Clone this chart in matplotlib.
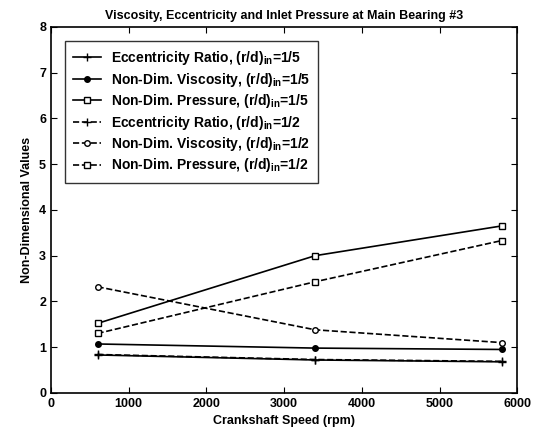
import matplotlib
matplotlib.use("Agg")
import matplotlib.pyplot as plt

plt.rcParams['font.family'] = ['Liberation Sans', 'DejaVu Sans']
plt.rcParams['font.weight'] = 'bold'
plt.rcParams['mathtext.fontset'] = 'custom'
plt.rcParams['mathtext.rm'] = 'Liberation Sans:bold'
plt.rcParams['mathtext.default'] = 'rm'

speed = [600, 3400, 5800]
ecc_5 = [0.83, 0.72, 0.68]
visc_5 = [1.07, 0.98, 0.95]
pres_5 = [1.52, 3.00, 3.65]
ecc_2 = [0.84, 0.73, 0.69]
visc_2 = [2.32, 1.38, 1.10]
pres_2 = [1.30, 2.43, 3.33]

fig = plt.figure(figsize=(5.36, 4.41), dpi=100)
ax = fig.add_axes([0.095, 0.109, 0.87, 0.83])

ms = 4
ax.plot(speed, ecc_5, 'k-', marker='+', ms=6, lw=1.2, label=r'Eccentricity Ratio, (r/d)$_{in}$=1/5')
ax.plot(speed, visc_5, 'k-', marker='o', ms=ms, lw=1.2, label=r'Non-Dim. Viscosity, (r/d)$_{in}$=1/5')
ax.plot(speed, pres_5, 'k-', marker='s', ms=ms, lw=1.2, mfc='white', label=r'Non-Dim. Pressure, (r/d)$_{in}$=1/5')
ax.plot(speed, ecc_2, 'k--', marker='+', ms=6, lw=1.2, label=r'Eccentricity Ratio, (r/d)$_{in}$=1/2')
ax.plot(speed, visc_2, 'k--', marker='o', ms=ms, lw=1.2, mfc='white', label=r'Non-Dim. Viscosity, (r/d)$_{in}$=1/2')
ax.plot(speed, pres_2, 'k--', marker='s', ms=ms, lw=1.2, mfc='white', label=r'Non-Dim. Pressure, (r/d)$_{in}$=1/2')

ax.set_xlim(0, 6000)
ax.set_ylim(0, 8)
ax.set_xticks(range(0, 6001, 1000))
ax.set_yticks(range(0, 9))
ax.tick_params(direction='in', top=True, right=True, labelsize=9, length=4)
for s in ax.spines.values():
    s.set_linewidth(1.2)

ax.set_title('Viscosity, Eccentricity and Inlet Pressure at Main Bearing #3', fontsize=9, fontweight='bold')
ax.set_xlabel('Crankshaft Speed (rpm)', fontsize=9, fontweight='bold')
ax.set_ylabel('Non-Dimensional Values', fontsize=9, fontweight='bold')

leg = ax.legend(loc='upper left', fontsize=10, frameon=True, fancybox=False,
                edgecolor='black', handlelength=2.0, handletextpad=0.7,
                borderaxespad=1.0, labelspacing=0.25, borderpad=0.6)
leg.get_frame().set_linewidth(1.0)

fig.savefig('out.png', dpi=100)
